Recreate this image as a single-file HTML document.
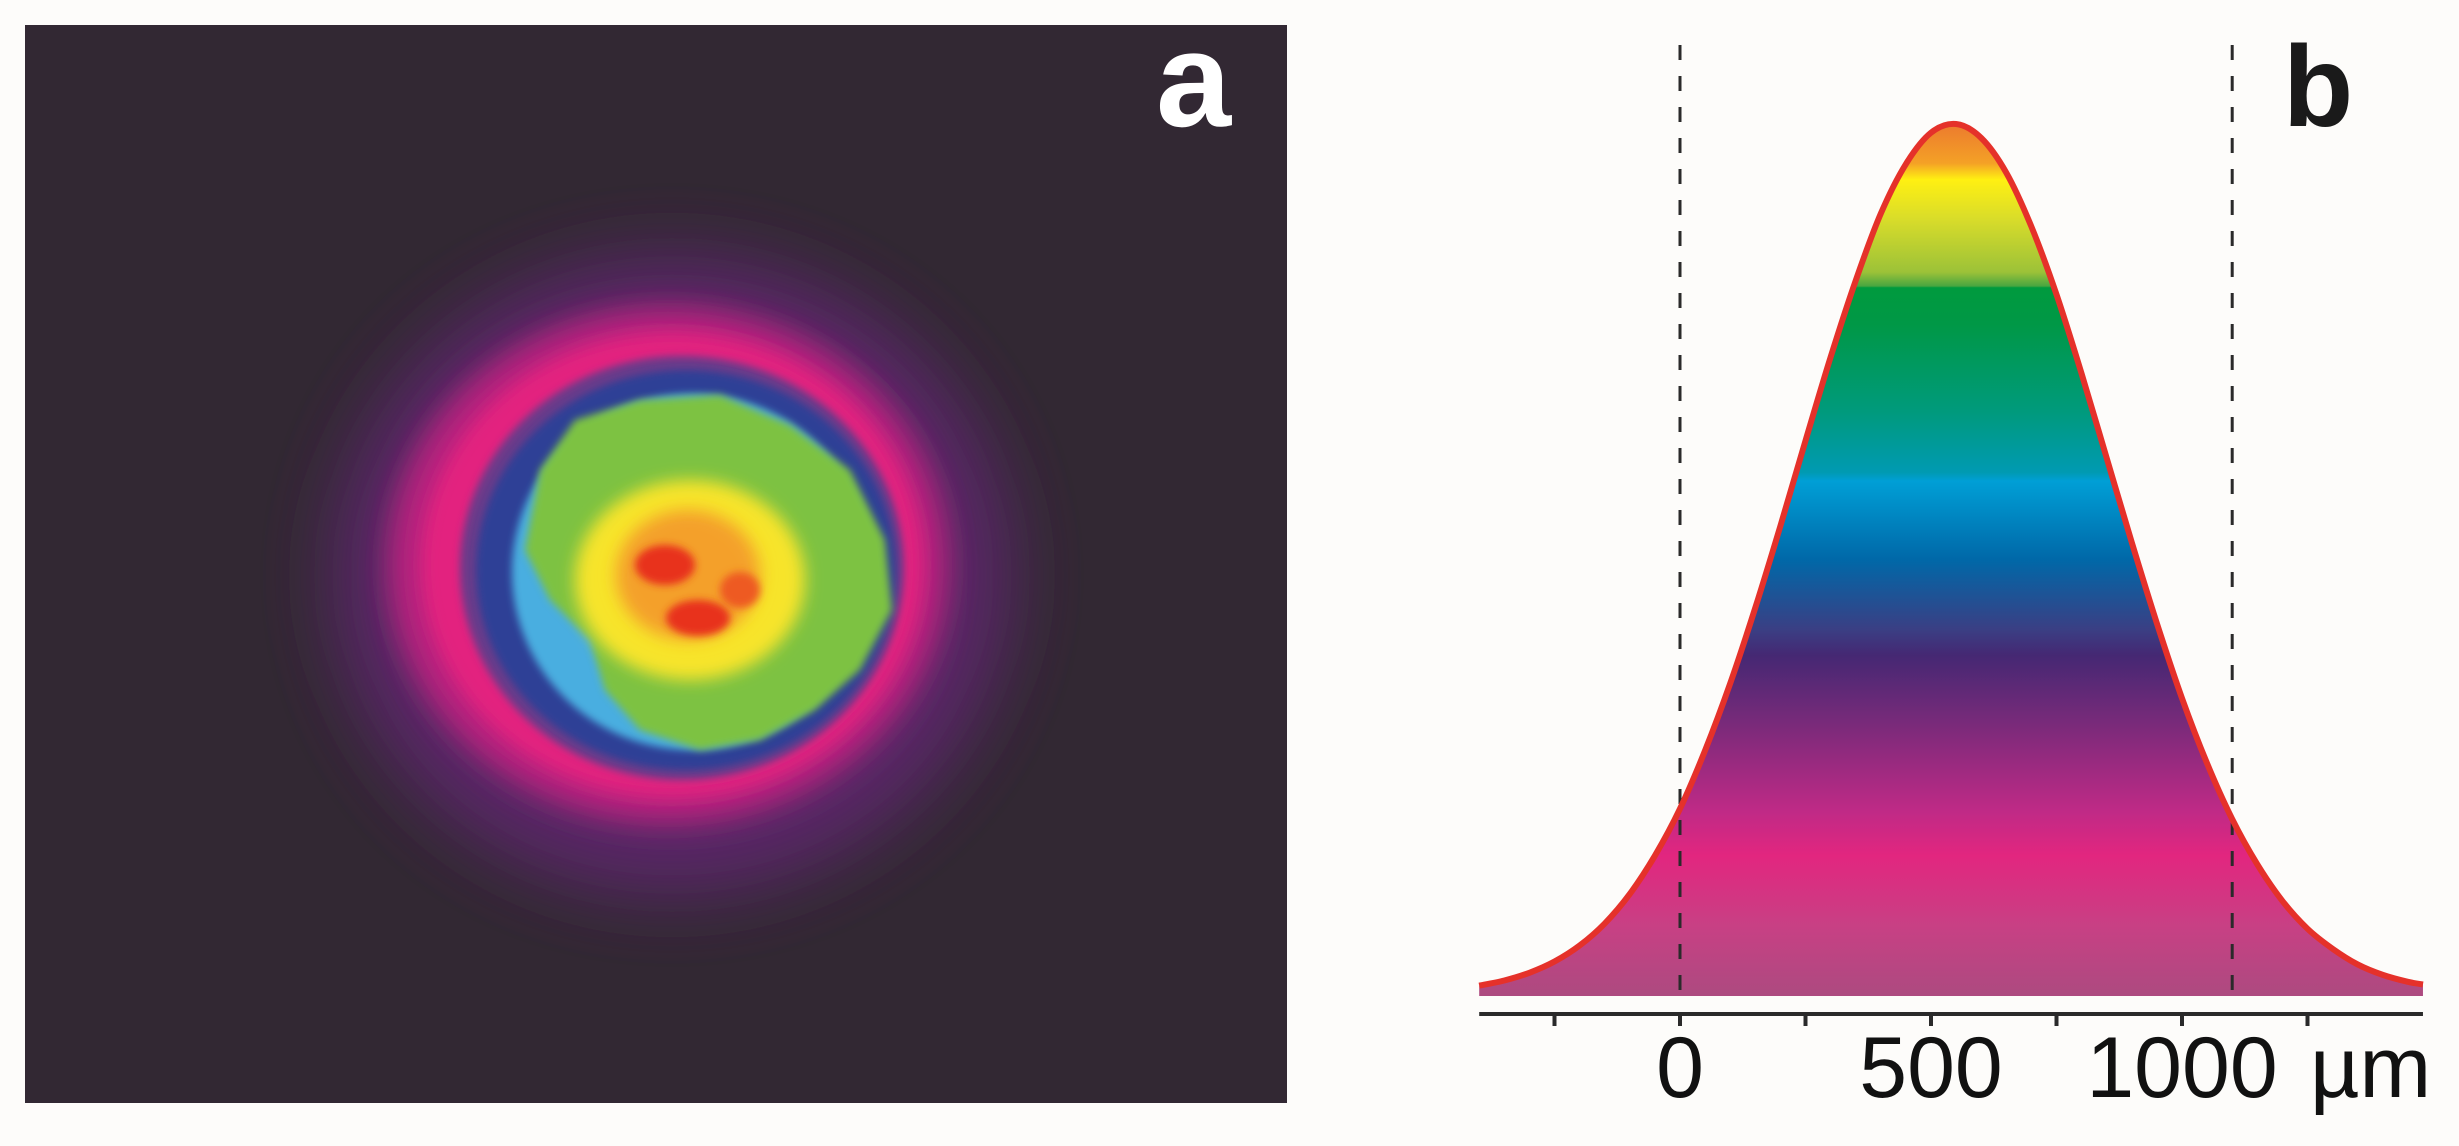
<!DOCTYPE html>
<html><head><meta charset="utf-8"><style>
html,body{margin:0;padding:0;background:#fdfcfa;}
svg{display:block;}
</style></head><body>
<svg id="fig" width="2459" height="1146" viewBox="0 0 2459 1146" xmlns="http://www.w3.org/2000/svg">
<defs>
 <filter id="b40" x="-50%" y="-50%" width="200%" height="200%"><feGaussianBlur stdDeviation="35"/></filter>
 <filter id="b20" x="-50%" y="-50%" width="200%" height="200%"><feGaussianBlur stdDeviation="14"/></filter>
 <filter id="b10" x="-50%" y="-50%" width="200%" height="200%"><feGaussianBlur stdDeviation="8"/></filter>
 <filter id="b5" x="-50%" y="-50%" width="200%" height="200%"><feGaussianBlur stdDeviation="4"/></filter>
 <linearGradient id="rainbow" gradientUnits="userSpaceOnUse" x1="0" y1="124" x2="0" y2="995">
  <stop offset="0" stop-color="#ec7a2e"/>
  <stop offset="0.045" stop-color="#f4a126"/>
  <stop offset="0.064" stop-color="#fff012"/>
  <stop offset="0.11" stop-color="#d8dc2a"/>
  <stop offset="0.17" stop-color="#9cc238"/>
  <stop offset="0.186" stop-color="#4aa640"/>
  <stop offset="0.188" stop-color="#009a3e"/>
  <stop offset="0.23" stop-color="#009846"/>
  <stop offset="0.33" stop-color="#009a7c"/>
  <stop offset="0.40" stop-color="#009ab2"/>
  <stop offset="0.41" stop-color="#009fd6"/>
  <stop offset="0.50" stop-color="#0068a8"/>
  <stop offset="0.58" stop-color="#3a3f84"/>
  <stop offset="0.61" stop-color="#452873"/>
  <stop offset="0.69" stop-color="#7a2a7a"/>
  <stop offset="0.79" stop-color="#c02a86"/>
  <stop offset="0.84" stop-color="#e2267f"/>
  <stop offset="0.92" stop-color="#c84084"/>
  <stop offset="1" stop-color="#ad4a80"/>
 </linearGradient>
 <clipPath id="clipA"><rect x="25" y="25" width="1262" height="1078"/></clipPath>
</defs>

<g>
 <rect x="25" y="25" width="1262" height="1078" fill="#322833"/>
 <g clip-path="url(#clipA)">
  <ellipse cx="672" cy="575" rx="340" ry="320" fill="#5a2868" filter="url(#b40)"/>
  <ellipse cx="668" cy="565" rx="280" ry="258" fill="#b8247e" filter="url(#b20)"/>
  <ellipse cx="672" cy="565" rx="250" ry="232" fill="#e3207f" filter="url(#b10)"/>
  <ellipse cx="682" cy="568" rx="222" ry="212" fill="#6a3a8a" filter="url(#b5)"/>
  <ellipse cx="686" cy="570" rx="210" ry="200" fill="#2e3f96" filter="url(#b5)"/>
  <ellipse cx="692" cy="572" rx="180" ry="178" fill="#4aaee0" filter="url(#b5)"/>
  <path d="M540,470 L575,420 L640,400 L720,395 L790,425 L850,470 L885,540 L892,610 L860,670 L815,710 L760,740 L700,750 L640,730 L605,690 L590,640 L550,600 L525,550 Z" fill="#7dc242" filter="url(#b5)"/>
  <ellipse cx="690" cy="580" rx="115" ry="100" fill="#f7e42a" filter="url(#b10)"/>
  <ellipse cx="688" cy="575" rx="72" ry="65" fill="#f4a02a" filter="url(#b10)"/>
  <ellipse cx="665" cy="565" rx="30" ry="20" fill="#e8321e" filter="url(#b5)"/>
  <ellipse cx="698" cy="618" rx="32" ry="18" fill="#e8321e" filter="url(#b5)"/>
  <ellipse cx="740" cy="590" rx="20" ry="18" fill="#ee5a22" filter="url(#b5)"/>
 </g>
 <text x="1156" y="126" font-family="Liberation Sans, sans-serif" font-weight="bold" font-size="135" fill="#ffffff">a</text>
</g>

<g id="panelB">
 <text x="2283" y="126" font-family="Liberation Sans, sans-serif" font-weight="bold" font-size="115" fill="#1a1a1a">b</text>
</g>
</svg>
<script>
// chart data (µm positions and relative intensity)
const profileX = [-400,-350,-300,-250,-200,-150,-100,-50,0,50,100,150,200,250,300,350,400,450,500,550,600,650,700,750,800,850,900,950,1000,1050,1100,1150,1200,1250,1300,1350,1400,1450,1480];
const profileY = [0.0096,0.0155,0.0244,0.0373,0.0557,0.081,0.115,0.159,0.213,0.280,0.357,0.444,0.538,0.636,0.732,0.820,0.897,0.954,0.990,1.0,0.984,0.944,0.882,0.804,0.713,0.616,0.519,0.426,0.340,0.265,0.201,0.149,0.107,0.075,0.052,0.034,0.022,0.014,0.011];
const majorTicks = [0,500,1000];
const majorTickLabels = ["0","500","1000"];
const minorTicks = [-250,250,750,1250];
const markerLines = [0,1100];
const axisMin = -400, axisMax = 1480;
const unitLabel = "µm";

const NS = "http://www.w3.org/2000/svg";
const g = document.getElementById('panelB');
function xs(v){ return 1680 + v * 251 / 500; }
function ys(v){ return 994 - v * 870; }
function mk(tag, attrs){ const e = document.createElementNS(NS, tag); for (const k in attrs) e.setAttribute(k, attrs[k]); return e; }

const pts = profileX.map((x,i)=>[xs(x), ys(profileY[i])]);
let d = `M${pts[0][0]},${pts[0][1]}`;
for (let i=0;i<pts.length-1;i++){
  const p0=pts[Math.max(0,i-1)], p1=pts[i], p2=pts[i+1], p3=pts[Math.min(pts.length-1,i+2)];
  const c1=[p1[0]+(p2[0]-p0[0])/6, p1[1]+(p2[1]-p0[1])/6];
  const c2=[p2[0]-(p3[0]-p1[0])/6, p2[1]-(p3[1]-p1[1])/6];
  d += ` C${c1[0]},${c1[1]} ${c2[0]},${c2[1]} ${p2[0]},${p2[1]}`;
}
const fill = mk('path', {d: d + ` L${pts[pts.length-1][0]},996 L${pts[0][0]},996 Z`, fill:'url(#rainbow)'});


g.appendChild(fill);

markerLines.forEach((v,i)=>{
  const l = mk('line', {x1:xs(v), x2:xs(v), y1:45, y2:1003, stroke:'#2a2a2a', 'stroke-width':3, 'stroke-dasharray':'15 16'});
  
  
  g.appendChild(l);
});

const curve = mk('path', {d:d, fill:'none', stroke:'#e5312a', 'stroke-width':6, 'stroke-linejoin':'round'});


g.appendChild(curve);

const axis = mk('line', {x1:xs(axisMin), x2:xs(axisMax), y1:1014, y2:1014, stroke:'#2a2a2a', 'stroke-width':4});


g.appendChild(axis);

majorTicks.concat(minorTicks).forEach(v=>{
  const t = mk('line', {x1:xs(v), x2:xs(v), y1:1013, y2:1026, stroke:'#2a2a2a', 'stroke-width':4});
  
  
  g.appendChild(t);
});

majorTicks.forEach((v,i)=>{
  const t = mk('text', {x:xs(v), y:1097, 'text-anchor':'middle', 'font-family':'Liberation Sans, sans-serif', 'font-size':86, fill:'#111'});
  t.textContent = majorTickLabels[i];
  
  
  g.appendChild(t);
});

const u = mk('text', {x:2310, y:1097, 'font-family':'Liberation Sans, sans-serif', 'font-size':86, fill:'#111'});
u.textContent = unitLabel;


g.appendChild(u);
</script>
</body></html>
